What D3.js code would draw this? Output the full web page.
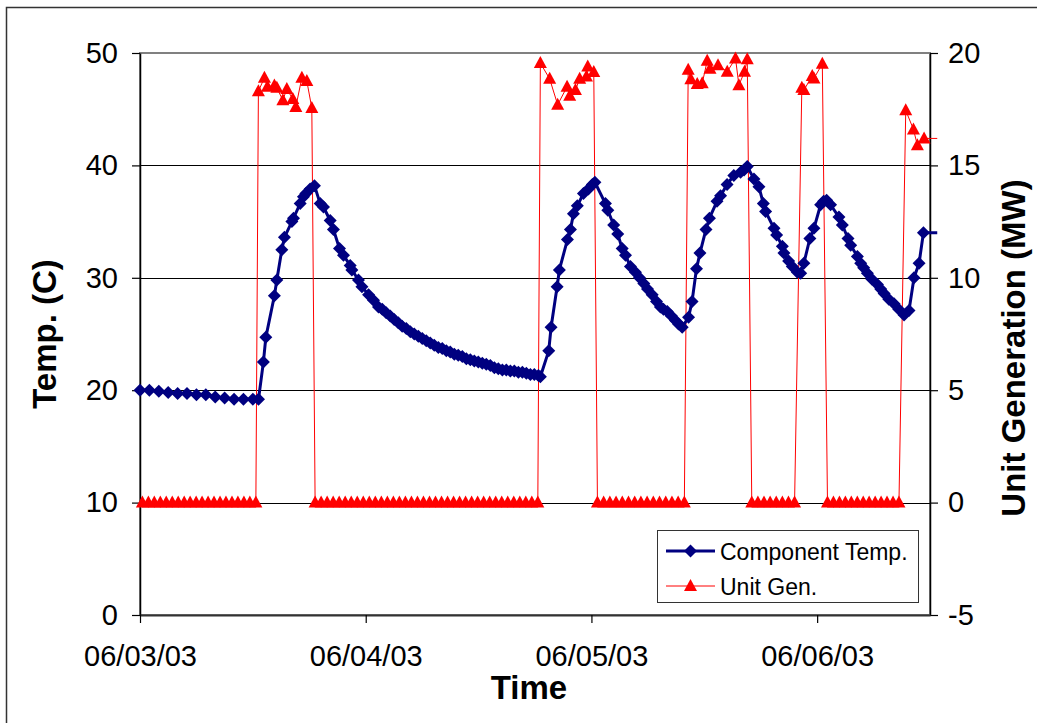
<!DOCTYPE html>
<html>
<head>
<meta charset="utf-8">
<script src="https://cdn.jsdelivr.net/npm/d3@7"></script>
<style>
  html, body { margin: 0; padding: 0; background: #fff; }
  svg { display: block; font-family: "Liberation Sans", Arial, sans-serif; }
</style>
</head>
<body>
<svg id="chart" width="1037" height="723"></svg>
<script>
// Component temperature (C), hours after 06/03/03 00:00
const tempHours = [
  0, 1, 2, 3, 4, 5, 6, 7, 8, 9, 10, 11, 12, 12.6,
  13.12, 13.38, 14.29, 14.55, 15.08, 15.36, 16.15, 16.32, 17.03, 17.38, 17.64, 18.09, 18.55,
  19.16, 19.51, 20.22, 20.57, 21.21, 21.64, 22.35, 22.53, 23.23, 23.60, 24.30, 24.83, 25.36,
  25.76, 26.18, 26.61, 27.03, 27.46, 27.88, 28.31, 28.74, 29.16, 29.59, 30.01, 30.44, 30.86,
  31.29, 31.72, 32.14, 32.57, 32.99, 33.42, 33.84, 34.27, 34.70, 35.12, 35.55, 35.97, 36.40,
  36.82, 37.25, 37.68, 38.10, 38.53, 38.95, 39.38, 39.80, 40.23, 40.66, 41.08, 41.51, 41.93,
  42.36, 42.57,
  43.46, 43.71, 44.35, 44.59, 45.45, 45.77, 46.09, 46.50, 47.15, 47.68, 48.10, 48.37,
  49.49, 49.74, 50.37, 50.80, 51.27, 51.62, 52.15, 52.68, 53.11, 53.57, 53.96, 54.46,
  54.92, 55.34, 55.66, 56.06, 56.51, 56.94, 57.26, 57.65,
  58.33, 58.70, 59.17, 59.54, 60.18, 60.55, 61.35, 61.73, 62.42, 63.14, 63.86, 64.23, 64.57,
  65.28, 65.81, 66.28, 66.52, 67.41, 67.69, 68.30, 68.47, 68.97, 69.36, 69.90, 70.25,
  70.59, 71.23, 71.66, 72.37, 72.69, 73.01,
  73.43, 74.32, 74.68, 75.28, 75.57, 76.28, 76.63, 76.95, 77.34, 77.80, 78.41, 78.76,
  79.12, 79.62, 80.18, 80.68, 81.24,
  81.77, 82.30, 82.84, 83.30, 84.77
];
const tempValues = [
  20.0, 20.0, 19.9, 19.8, 19.7, 19.7, 19.6, 19.6, 19.4, 19.3, 19.2, 19.2, 19.2, 19.2,
  22.5, 24.7, 28.4, 29.8, 32.5, 33.6, 35.0, 35.3, 36.6, 37.2, 37.5, 37.9, 38.2,
  36.6, 36.3, 35.1, 34.3, 32.6, 32.0, 31.1, 30.7, 29.8, 29.2, 28.5, 28.0, 27.4,
  27.2, 26.9, 26.6, 26.3, 26.0, 25.7, 25.5, 25.2, 25.0, 24.8, 24.6, 24.4, 24.2,
  24.0, 23.8, 23.7, 23.5, 23.4, 23.2, 23.1, 23.0, 22.8, 22.7, 22.6, 22.5, 22.4,
  22.3, 22.2, 22.0, 21.9, 21.8, 21.8, 21.7, 21.7, 21.6, 21.6, 21.5, 21.4, 21.4,
  21.3, 21.2,
  23.5, 25.6, 29.2, 30.7, 33.4, 34.3, 35.7, 36.4, 37.5, 37.9, 38.3, 38.5,
  36.6, 36.0, 34.7, 33.9, 32.6, 32.0, 31.0, 30.5, 30.0, 29.5, 29.0, 28.5,
  27.9, 27.4, 27.2, 27.0, 26.6, 26.2, 25.9, 25.6,
  26.5, 27.9, 30.8, 32.2, 34.3, 35.3, 36.8, 37.3, 38.3, 39.1, 39.4, 39.6, 39.9,
  38.8, 38.1, 36.6, 35.9, 34.4, 33.8, 32.8, 32.2, 31.5, 31.0, 30.5, 30.4,
  31.3, 33.5, 34.4, 36.5, 36.8, 36.9,
  36.5, 35.4, 34.7, 33.5, 32.9, 31.9, 31.3, 30.9, 30.4, 29.9, 29.4, 29.0,
  28.6, 28.1, 27.7, 27.2, 26.7,
  27.1, 30.0, 31.3, 34.0, 34.0
];

// Unit generation (MW), hours after 06/03/03 00:00
const genHours = [
  0.25, 0.89, 1.52, 2.16, 2.79, 3.43, 4.06, 4.70, 5.33, 5.97, 6.60, 7.24, 7.87, 8.51,
  9.14, 9.78, 10.41, 11.05, 11.68, 12.32,
  12.59, 13.23, 13.55, 14.29, 14.55, 15.19, 15.61, 16.25, 16.57, 17.21, 17.74, 18.27,
  18.62, 19.26, 19.90, 20.54, 21.18, 21.82, 22.46, 23.10, 23.74, 24.38, 25.02, 25.66,
  26.30, 26.94, 27.58, 28.22, 28.86, 29.50, 30.14, 30.78, 31.42, 32.06, 32.70, 33.34,
  33.98, 34.62, 35.26, 35.90, 36.54, 37.18, 37.82, 38.46, 39.10, 39.74, 40.38, 41.02,
  41.66, 42.30,
  42.57, 43.56, 44.41, 45.41, 45.69, 46.30, 46.75, 47.47, 47.61, 48.25,
  48.64, 49.30, 49.96, 50.62, 51.28, 51.94, 52.60, 53.26, 53.92, 54.58, 55.24, 55.90,
  56.56, 57.22, 57.88,
  58.29, 58.57, 59.25, 59.78, 60.31, 60.61, 61.46, 62.44, 63.32, 63.68, 64.28, 64.57,
  65.05, 65.70, 66.35, 67.00, 67.65, 68.30, 68.95, 69.60,
  70.37, 70.59, 71.48, 71.66, 72.55,
  73.10, 73.73, 74.37, 75.00, 75.63, 76.27, 76.90, 77.53, 78.17, 78.80, 79.43, 80.07, 80.70,
  81.42, 82.24, 82.66, 83.37, 84.77
];
const genValues = [
  0, 0, 0, 0, 0, 0, 0, 0, 0, 0, 0, 0, 0, 0,
  0, 0, 0, 0, 0, 0,
  18.3, 18.9, 18.5, 18.55, 18.45, 17.9, 18.4, 17.95, 17.6, 18.9, 18.75, 17.55,
  0, 0, 0, 0, 0, 0, 0, 0, 0, 0, 0, 0,
  0, 0, 0, 0, 0, 0, 0, 0, 0, 0, 0, 0,
  0, 0, 0, 0, 0, 0, 0, 0, 0, 0, 0, 0,
  0, 0,
  19.55, 18.85, 17.7, 18.5, 18.1, 18.35, 18.85, 18.95, 19.4, 19.15,
  0, 0, 0, 0, 0, 0, 0, 0, 0, 0, 0, 0,
  0, 0, 0,
  19.25, 18.83, 18.62, 18.65, 19.65, 19.3, 19.46, 19.17, 19.76, 18.57, 19.17, 19.72,
  0, 0, 0, 0, 0, 0, 0, 0,
  18.45, 18.35, 18.98, 18.87, 19.52,
  0, 0, 0, 0, 0, 0, 0, 0, 0, 0, 0, 0, 0,
  17.45, 16.6, 15.9, 16.2, 16.2
];

const dayTicks = ["2003-06-03", "2003-06-04", "2003-06-05", "2003-06-06"];
const tempTicks = [0, 10, 20, 30, 40, 50];
const genTicks = [-5, 0, 5, 10, 15, 20];
const seriesNames = ["Component Temp.", "Unit Gen."];

const start = new Date(2003, 5, 3, 0, 0, 0);
const end = new Date(2003, 5, 6, 12, 0, 0);
const toDate = h => new Date(start.getTime() + h * 3600000);
const parseDay = d3.timeParse("%Y-%m-%d");

const temp = tempHours.map((h, i) => ({ t: toDate(h), v: tempValues[i] }));
const gen = genHours.map((h, i) => ({ t: toDate(h), v: genValues[i] }));

const svg = d3.select("#chart");
const plot = { left: 140, right: 930, top: 53, bottom: 615 };

const x = d3.scaleTime().domain([start, end]).range([plot.left, plot.right]);
const yT = d3.scaleLinear().domain([0, 50]).range([plot.bottom, plot.top]);
const yG = d3.scaleLinear().domain([-5, 20]).range([plot.bottom, plot.top]);

// chart frame
svg.append("rect").attr("width", 1037).attr("height", 723).attr("fill", "#fff");
svg.append("path")
  .attr("d", "M6.5,740 V7.5 H1050")
  .attr("fill", "none").attr("stroke", "#333").attr("stroke-width", 1.5);

// plot area border
svg.append("rect")
  .attr("x", plot.left).attr("y", plot.top)
  .attr("width", plot.right - plot.left).attr("height", plot.bottom - plot.top)
  .attr("fill", "#fff").attr("stroke", "#808080").attr("stroke-width", 2);

// horizontal gridlines
svg.append("g").selectAll("line")
  .data(tempTicks.filter(d => d > 0 && d < 50))
  .join("line")
  .attr("x1", plot.left).attr("x2", plot.right)
  .attr("y1", d => Math.round(yT(d)) + 0.5).attr("y2", d => Math.round(yT(d)) + 0.5)
  .attr("stroke", "#000").attr("stroke-width", 1);

const tickFont = 29;
const plain = d => String(d);

// left axis
const gL = svg.append("g").attr("transform", `translate(${plot.left},0)`)
  .call(d3.axisLeft(yT).tickValues(tempTicks).tickSize(8).tickSizeOuter(0)
    .tickPadding(14).tickFormat(plain));
// right axis
const gR = svg.append("g").attr("transform", `translate(${plot.right},0)`)
  .call(d3.axisRight(yG).tickValues(genTicks).tickSize(8).tickSizeOuter(0)
    .tickPadding(10).tickFormat(plain));
// bottom axis
const gB = svg.append("g").attr("transform", `translate(0,${plot.bottom})`)
  .call(d3.axisBottom(x).tickValues(dayTicks.map(parseDay)).tickSize(8).tickSizeOuter(0)
    .tickPadding(22).tickFormat(d3.timeFormat("%m/%d/%y")));

[gL, gR, gB].forEach(g => {
  g.selectAll(".domain").attr("stroke", "#000").attr("stroke-width", 1.5);
  g.selectAll(".tick line").attr("stroke", "#000").attr("stroke-width", 1.2);
  g.selectAll(".tick text").attr("fill", "#000")
    .style("font-size", tickFont + "px").style("font-family", '"Liberation Sans", Arial, sans-serif');
});
gB.select(".domain").attr("stroke", "#333").attr("stroke-width", 2);

// axis titles
svg.append("text")
  .attr("x", 529).attr("y", 699).attr("text-anchor", "middle")
  .style("font-size", "33px").style("font-weight", "bold").text("Time");
svg.append("text")
  .attr("transform", "translate(56,334) rotate(-90)").attr("text-anchor", "middle")
  .style("font-size", "33px").style("font-weight", "bold").text("Temp. (C)");
svg.append("text")
  .attr("transform", "translate(1025,348) rotate(-90)").attr("text-anchor", "middle")
  .style("font-size", "33px").style("font-weight", "bold").text("Unit Generation (MW)");

// series
const diamond = "M0,-6.5L6.5,0L0,6.5L-6.5,0Z";
const triangle = "M0,-7L6.5,5L-6.5,5Z";
const inDomain = d => d.t <= end;

const genLine = d3.line().x(d => x(d.t)).y(d => yG(d.v));
svg.append("path").datum(gen)
  .attr("d", genLine).attr("fill", "none").attr("stroke", "#ff0000").attr("stroke-width", 1);
svg.append("g").selectAll("path").data(gen.filter(inDomain)).join("path")
  .attr("d", triangle).attr("fill", "#ff0000")
  .attr("transform", d => `translate(${x(d.t)},${yG(d.v)})`);

const tempLine = d3.line().x(d => x(d.t)).y(d => yT(d.v));
svg.append("path").datum(temp)
  .attr("d", tempLine).attr("fill", "none").attr("stroke", "#000080")
  .attr("stroke-width", 3).attr("stroke-linejoin", "round");
svg.append("g").selectAll("path").data(temp.filter(inDomain)).join("path")
  .attr("d", diamond).attr("fill", "#000080")
  .attr("transform", d => `translate(${x(d.t)},${yT(d.v)})`);

// legend
const lg = svg.append("g");
lg.append("rect").attr("x", 657.5).attr("y", 530.5).attr("width", 261).attr("height", 72)
  .attr("fill", "#fff").attr("stroke", "#333").attr("stroke-width", 1);
const legendRows = [
  { name: seriesNames[0], color: "#000080", width: 3, marker: diamond, y: 551 },
  { name: seriesNames[1], color: "#ff0000", width: 1, marker: triangle, y: 586 }
];
legendRows.forEach(r => {
  lg.append("line").attr("x1", 666).attr("x2", 715).attr("y1", r.y).attr("y2", r.y)
    .attr("stroke", r.color).attr("stroke-width", r.width);
  lg.append("path").attr("d", r.marker).attr("fill", r.color)
    .attr("transform", `translate(690.5,${r.y})`);
  lg.append("text").attr("x", 720).attr("y", r.y + 8.5)
    .style("font-size", "23px").text(r.name);
});
</script>
</body>
</html>
